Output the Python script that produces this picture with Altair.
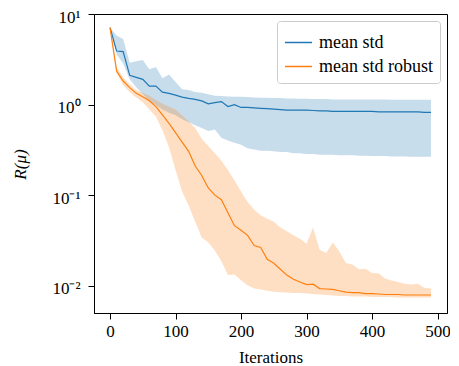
import altair as alt
import pandas as pd

iters = list(range(0, 500, 10))

std_mean = [7.07, 3.9, 3.85, 2.1, 2.0, 1.9, 1.6, 1.6, 1.37, 1.33,
            1.27, 1.21, 1.17, 1.14, 1.1, 1.02, 1.05, 1.08, 0.95, 1.0,
            0.93, 0.93, 0.92, 0.91, 0.90, 0.89, 0.88, 0.87, 0.87, 0.87,
            0.87, 0.86, 0.85, 0.85, 0.84, 0.84, 0.84, 0.84, 0.84, 0.84,
            0.84, 0.83, 0.83, 0.83, 0.83, 0.83, 0.83, 0.83, 0.82, 0.82]
std_hi = [7.07, 5.8, 5.3, 2.9, 3.0, 3.1, 2.45, 2.6, 1.95, 2.15,
          1.78, 1.48, 1.45, 1.38, 1.35, 1.3, 1.25, 1.24, 1.23, 1.22,
          1.22, 1.21, 1.2, 1.19, 1.19, 1.18, 1.18, 1.17, 1.17, 1.16,
          1.16, 1.15, 1.15, 1.15, 1.14, 1.14, 1.14, 1.14, 1.14, 1.14,
          1.14, 1.14, 1.14, 1.13, 1.13, 1.13, 1.13, 1.13, 1.13, 1.13]
std_lo = [7.07, 3.6, 2.85, 1.9, 1.55, 1.3, 1.1, 0.98, 0.88, 0.81,
          0.76, 0.69, 0.64, 0.59, 0.55, 0.51, 0.53, 0.43, 0.40, 0.38,
          0.36, 0.33, 0.32, 0.31, 0.31, 0.305, 0.30, 0.30, 0.29, 0.29,
          0.285, 0.285, 0.28, 0.28, 0.28, 0.275, 0.275, 0.275, 0.272, 0.272,
          0.27, 0.27, 0.27, 0.268, 0.268, 0.267, 0.266, 0.266, 0.265, 0.265]

rob_mean = [7.07, 2.35, 1.82, 1.54, 1.33, 1.22, 1.1, 0.95, 0.77, 0.62,
            0.49, 0.385, 0.305, 0.21, 0.165, 0.12, 0.10, 0.089, 0.064, 0.046,
            0.041, 0.036, 0.0278, 0.0265, 0.0196, 0.0177, 0.0152, 0.0131, 0.0118, 0.011,
            0.0103, 0.0104, 0.0093, 0.0092, 0.0091, 0.0088, 0.0085, 0.0084, 0.0084, 0.0082,
            0.0082, 0.0081, 0.0080, 0.0080, 0.0080, 0.0079, 0.0079, 0.0079, 0.0079, 0.0079]
rob_hi = [7.07, 2.6, 2.0, 1.67, 1.45, 1.35, 1.25, 1.12, 1.02, 0.95,
          0.88, 0.76, 0.65, 0.55, 0.42, 0.35, 0.29, 0.24, 0.19, 0.145,
          0.11, 0.084, 0.069, 0.06, 0.055, 0.051, 0.044, 0.04, 0.036, 0.033,
          0.029, 0.044, 0.025, 0.023, 0.030, 0.024, 0.0178, 0.0172, 0.0152, 0.0154,
          0.0138, 0.0137, 0.012, 0.0114, 0.011, 0.0105, 0.0103, 0.0105, 0.0095, 0.0093]
rob_lo = [7.07, 2.2, 1.64, 1.37, 1.2, 1.06, 0.88, 0.74, 0.52, 0.34,
          0.19, 0.11, 0.077, 0.051, 0.034, 0.030, 0.0245, 0.0186, 0.0131, 0.0133,
          0.0115, 0.0101, 0.0093, 0.0091, 0.0088, 0.0086, 0.0085, 0.0084, 0.0083, 0.0083,
          0.0082, 0.0081, 0.0080, 0.0079, 0.0078, 0.0077, 0.0077, 0.0076, 0.0076, 0.0076,
          0.0075, 0.0075, 0.0075, 0.0075, 0.0074, 0.0074, 0.0074, 0.0074, 0.0074, 0.0074]

series_names = ["mean std", "mean std robust"]
colors = ["#1f77b4", "#ff7f0e"]

rows = []
for name, m, lo, hi in [(series_names[0], std_mean, std_lo, std_hi),
                        (series_names[1], rob_mean, rob_lo, rob_hi)]:
    for i, x in enumerate(iters):
        rows.append({"it": x, "series": name, "mean": m[i], "lo": lo[i], "hi": hi[i]})
df = pd.DataFrame(rows)

FONT = "Liberation Serif"
FS = 17

legend = alt.Legend(title=None, orient="top-right", offset=7,
                    symbolType="stroke", symbolSize=729,
                    symbolStrokeWidth=1.5, symbolOpacity=1,
                    labelFontSize=18, labelFont=FONT, labelOffset=6,
                    rowPadding=-4, padding=7,
                    fillColor="white", strokeColor="#cccccc",
                    cornerRadius=3)
color = alt.Color("series:N", scale=alt.Scale(domain=series_names, range=colors),
                  legend=legend)

xenc = alt.X("it:Q", title="Iterations",
             scale=alt.Scale(domain=[-24.5, 514.5], nice=False, zero=False),
             axis=alt.Axis(values=[0, 100, 200, 300, 400, 500], grid=False,
                           tickSize=6, labelPadding=4, titlePadding=10,
                           labelFontSize=FS, titleFontSize=FS))
yscale = alt.Scale(type="log", domain=[0.005, 10], nice=False)

band = alt.Chart(df).mark_area(opacity=0.25).encode(
    x=xenc,
    y=alt.Y("lo:Q", scale=yscale),
    y2="hi:Q",
    color=color,
)

line = alt.Chart(df).mark_line(strokeWidth=1.2).encode(
    x=xenc,
    y=alt.Y("mean:Q", scale=yscale, title="R(μ)",
            axis=alt.Axis(values=[0.01, 0.1, 1, 10], grid=False, tickSize=6,
                          labelPadding=8, labelOffset=3,
                          titleX=-74, titleY=150, titleBaseline="middle",
                          labelFontSize=FS, titleFontSize=FS,
                          titleFontStyle="italic",
                          labelExpr="datum.value >= 5 ? '10¹' : datum.value >= 0.5 ? '10⁰' : datum.value >= 0.05 ? '10⁻¹' : '10⁻²'")),
    color=color,
)

chart = alt.layer(band, line).properties(
    width=353, height=299,
    autosize=alt.AutoSizeParams(type="none"),
    padding={"left": 86, "top": 6, "right": 3, "bottom": 56},
).configure_view(stroke="black", strokeWidth=1).configure_axis(
    labelFont=FONT, titleFont=FONT, domainColor="black", tickColor="black",
    labelColor="black", titleColor="black", titleFontWeight="normal",
).configure_legend(labelColor="black")

chart.save("out.html", embed_options={"renderer": "svg", "actions": False})
